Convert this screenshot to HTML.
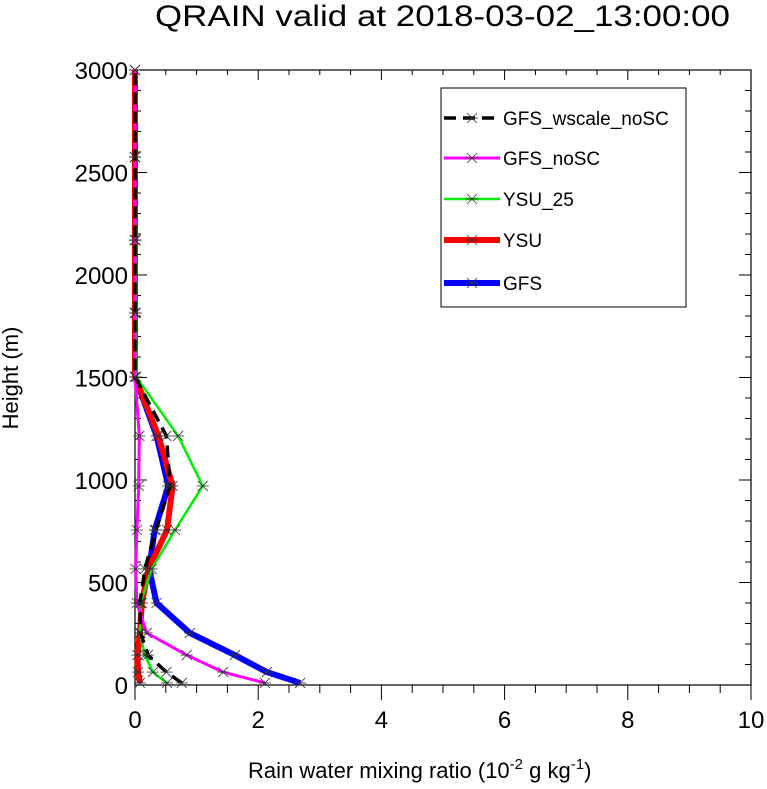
<!DOCTYPE html>
<html><head><meta charset="utf-8"><style>
body{margin:0;background:#fff;font-family:"Liberation Sans",sans-serif}
svg text{font-family:"Liberation Sans",sans-serif}
</style></head><body>
<svg id="chart" width="767" height="784" viewBox="0 0 767 784" xmlns="http://www.w3.org/2000/svg">
<text x="155" y="26" font-size="30" textLength="575" lengthAdjust="spacingAndGlyphs">QRAIN valid at 2018-03-02_13:00:00</text>
<rect x="135" y="70" width="616" height="615" fill="none" stroke="#000" stroke-width="1.2"/>
<g id="axes"></g>
<g id="series"></g>
<text x="248" y="778" font-size="22">Rain water mixing ratio (10<tspan font-size="15" dy="-9">-2</tspan><tspan dy="9"> g kg</tspan><tspan font-size="15" dy="-9">-1</tspan><tspan dy="9">)</tspan></text>
<text transform="translate(18,378) rotate(-90)" font-size="22" text-anchor="middle">Height (m)</text>
<g>
<rect x="441" y="88" width="245" height="219" fill="#fff" stroke="#000" stroke-width="1"/>
<g id="legend"></g>
</g>
</svg>
<script>
const heights=[10,63,146,254,400,566,756,971,1215,1503,1815,2170,2575,3000];
const gfs=[2.68,2.14,1.62,0.89,0.35,0.23,0.32,0.54,0.35,0,0,0,0,0];
const ysu=[0.08,0.05,0.04,0.08,0.11,0.22,0.52,0.61,0.38,0,0,0,0,0];
const ysu25=[0.52,0.29,0.16,0.08,0.09,0.27,0.65,1.10,0.70,0.02,0.01,0.01,0,0];
const gfsNoSC=[2.11,1.43,0.84,0.19,0.03,0.01,0.03,0.06,0.07,0,0,0,0,0];
const gfsWscale=[0.76,0.51,0.21,0.09,0.08,0.16,0.34,0.57,0.51,0,0,0,0,0];
const xTicks=[0,2,4,6,8,10];
const yTicks=[0,500,1000,1500,2000,2500,3000];
const NS="http://www.w3.org/2000/svg";
const X0=135,X1=751,Y0=685,Y1=70;
const sx=v=>X0+(v-0)/(10-0)*(X1-X0);
const sy=v=>Y0-(v-0)/(3000-0)*(Y0-Y1);
function mk(tag,attrs,parent){const e=document.createElementNS(NS,tag);for(const k in attrs)e.setAttribute(k,attrs[k]);parent.appendChild(e);return e;}
const axes=document.getElementById('axes');
for(let v=0;v<=10.001;v+=0.5){const x=sx(v);const maj=Math.abs(v%2)<1e-6;
 const t=mk('line',{x1:x,y1:Y0,x2:x,y2:Y0+(maj?15:8),stroke:'#000'},axes);
 
 
 const t2=mk('line',{x1:x,y1:Y1,x2:x,y2:Y1+(maj?10:5),stroke:'#000'},axes);
 
 }
xTicks.forEach(v=>{const t=mk('text',{x:sx(v),y:Y0+43,'font-size':24,'text-anchor':'middle'},axes);t.textContent=v;
 
 });
for(let v=0;v<=3000;v+=100){const y=sy(v);const maj=v%500===0;
 const t=mk('line',{x1:X0,y1:y,x2:X0+(maj?12:6),y2:y,stroke:'#000'},axes);
 
 
 const t2=mk('line',{x1:X1,y1:y,x2:X1-(maj?12:6),y2:y,stroke:'#000'},axes);
 
 }
yTicks.forEach(v=>{const t=mk('text',{x:X0-7,y:sy(v)+9,'font-size':24,'text-anchor':'end'},axes);t.textContent=v;
 
 });
const series=[
 {name:'GFS',vals:gfs,color:'#0000ff',w:6,dash:null},
 {name:'YSU',vals:ysu,color:'#ff0000',w:6,dash:null},
 {name:'YSU_25',vals:ysu25,color:'#00ee00',w:2.5,dash:null},
 {name:'GFS_noSC',vals:gfsNoSC,color:'#ff00ff',w:3,dash:null},
 {name:'GFS_wscale_noSC',vals:gfsWscale,color:'#000',w:3.5,dash:'12,7'}];
const sg=document.getElementById('series');
function marker(x,y,p){const g=mk('g',{stroke:'#333','stroke-width':0.8},p);
 mk('line',{x1:x-5,y1:y-5,x2:x+5,y2:y+5},g);mk('line',{x1:x-5,y1:y+5,x2:x+5,y2:y-5},g);mk('line',{x1:x-6,y1:y,x2:x+6,y2:y},g);return g;}
series.forEach(s=>{const pts=s.vals.map((v,i)=>sx(v)+','+sy(heights[i])).join(' ');
 const pl=mk('polyline',{points:pts,fill:'none',stroke:s.color,'stroke-width':s.w,'stroke-linejoin':'round'},sg);
 if(s.dash)pl.setAttribute('stroke-dasharray',s.dash);
 
 
 s.vals.forEach((v,i)=>{const m=marker(sx(v),sy(heights[i]),sg);
  
  });});
const lg=document.getElementById('legend');
const order=['GFS_wscale_noSC','GFS_noSC','YSU_25','YSU','GFS'];const ly=[118,158,199,240,283];
order.forEach((n,i)=>{const s=series.find(q=>q.name===n);const g=mk('g',{},lg);
 
 
 const l=mk('line',{x1:444,y1:ly[i],x2:500,y2:ly[i],stroke:s.color,'stroke-width':s.w},g);if(s.dash)l.setAttribute('stroke-dasharray','12,7');
 marker(472,ly[i],g);
 const t=mk('text',{x:503,y:ly[i]+7,'font-size':19},g);t.textContent=n;});
</script>
</body></html>
